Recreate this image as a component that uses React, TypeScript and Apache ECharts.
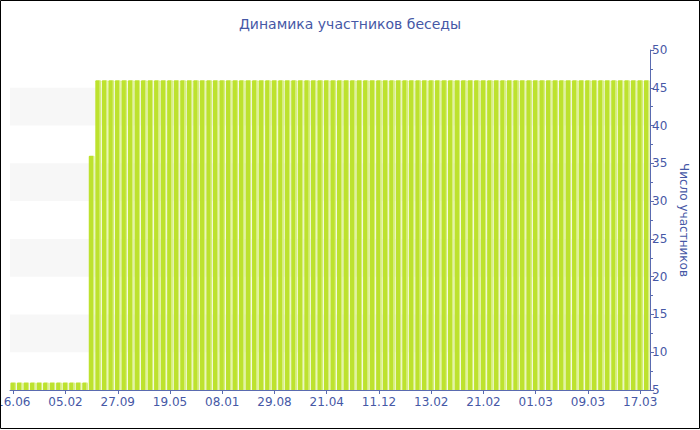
import React, { useEffect, useRef } from "react";
import * as echarts from "echarts";

const TITLE = "Динамика участников беседы";
const Y_NAME = "Число участников";

const dates: string[] = [
  "16.06", "15.07", "13.08", "11.09", "10.10", "08.11", "08.12", "06.01",
  "05.02", "06.03", "04.04", "03.05", "01.06", "01.07", "30.07", "28.08",
  "27.09", "26.10", "24.11", "23.12", "21.01", "20.02", "21.03", "19.04",
  "19.05", "17.06", "16.07", "14.08", "13.09", "12.10", "10.11", "10.12",
  "08.01", "06.02", "07.03", "05.04", "04.05", "02.06", "02.07", "31.07",
  "29.08", "28.09", "27.10", "25.11", "24.12", "23.01", "21.02", "22.03",
  "21.04", "20.05", "18.06", "17.07", "16.08", "14.09", "13.10", "12.11",
  "11.12", "19.12", "27.12", "04.01", "12.01", "20.01", "28.01", "05.02",
  "13.02", "14.02", "15.02", "16.02", "17.02", "18.02", "19.02", "20.02",
  "21.02", "22.02", "23.02", "24.02", "25.02", "26.02", "27.02", "28.02",
  "01.03", "02.03", "03.03", "04.03", "05.03", "06.03", "07.03", "08.03",
  "09.03", "10.03", "11.03", "12.03", "13.03", "14.03", "15.03", "16.03",
  "17.03", "18.03",
];

const members: number[] = [
  6, 6, 6, 6, 6, 6, 6, 6,
  6, 6, 6, 6, 36, 46, 46, 46,
  46, 46, 46, 46, 46, 46, 46, 46,
  46, 46, 46, 46, 46, 46, 46, 46,
  46, 46, 46, 46, 46, 46, 46, 46,
  46, 46, 46, 46, 46, 46, 46, 46,
  46, 46, 46, 46, 46, 46, 46, 46,
  46, 46, 46, 46, 46, 46, 46, 46,
  46, 46, 46, 46, 46, 46, 46, 46,
  46, 46, 46, 46, 46, 46, 46, 46,
  46, 46, 46, 46, 46, 46, 46, 46,
  46, 46, 46, 46, 46, 46, 46, 46,
  46, 46,
];

const Y_MIN = 5;
const Y_MAX = 50;
const Y_STEP = 5;

const TEXT = "#4658a6";
const AXIS = "#5a6bb0";

export default function App() {
  const ref = useRef<HTMLDivElement>(null);
  useEffect(() => {
    if (!ref.current) return;
    const chart = echarts.init(ref.current, undefined, { renderer: "svg" });
    chart.setOption({
      animation: false,
      backgroundColor: "#ffffff",
      textStyle: { fontFamily: "DejaVu Sans" },
      title: {
        text: TITLE,
        left: "center",
        top: 12,
        textStyle: { color: TEXT, fontSize: 14, fontWeight: "normal", fontFamily: "DejaVu Sans" },
      },
      graphic: [
        {
          type: "rect",
          shape: { x: 0.5, y: 0.5, width: 699, height: 428 },
          style: { fill: "none", stroke: "#000", lineWidth: 1 },
          silent: true,
          z: 100,
        },
      ],
      grid: {
        left: 10,
        right: 50,
        top: 50,
        bottom: 40,
        containLabel: false,
        outerBoundsMode: "none",
      },
      xAxis: {
        type: "category",
        data: dates,
        boundaryGap: true,
        axisLine: { lineStyle: { color: AXIS, width: 1 } },
        axisTick: { show: true, interval: 7, alignWithLabel: true, length: 4, lineStyle: { color: AXIS } },
        axisLabel: {
          interval: 7,
          color: TEXT,
          fontSize: 12,
          margin: 6,
          fontFamily: "DejaVu Sans",
          hideOverlap: false,
        },
        splitLine: { show: false },
      },
      yAxis: {
        type: "value",
        position: "right",
        min: Y_MIN,
        max: Y_MAX,
        interval: Y_STEP,
        name: Y_NAME,
        nameLocation: "middle",
        nameRotate: -90,
        nameGap: 27,
        nameTextStyle: { color: TEXT, fontSize: 12, fontFamily: "DejaVu Sans" },
        axisLine: { show: true, lineStyle: { color: AXIS, width: 1 } },
        axisTick: { show: true, length: 4, lineStyle: { color: AXIS } },
        minorTick: { show: true, splitNumber: 2, length: 3, lineStyle: { color: AXIS } },
        axisLabel: { color: TEXT, fontSize: 12, margin: 2, fontFamily: "DejaVu Sans" },
        splitLine: { show: false },
        splitArea: { show: true, areaStyle: { color: ["rgba(255,255,255,0)", "#f7f7f7"] } },
      },
      series: [
        {
          type: "bar",
          data: members,
          barCategoryGap: "12%",
          itemStyle: {
            color: new echarts.graphic.LinearGradient(0, 0, 1, 0, [
              { offset: 0, color: "#bde22e" },
              { offset: 0.7, color: "#bde22e" },
              { offset: 0.75, color: "#d6ee7c" },
              { offset: 1, color: "#d6ee7c" },
            ]),
            borderRadius: [1, 1, 0, 0],
          },
        },
      ],
    });
    return () => chart.dispose();
  }, []);
  return (
    <div
      ref={ref}
      style={{ position: "absolute", left: 0, top: 0, width: 700, height: 430 }}
    />
  );
}
